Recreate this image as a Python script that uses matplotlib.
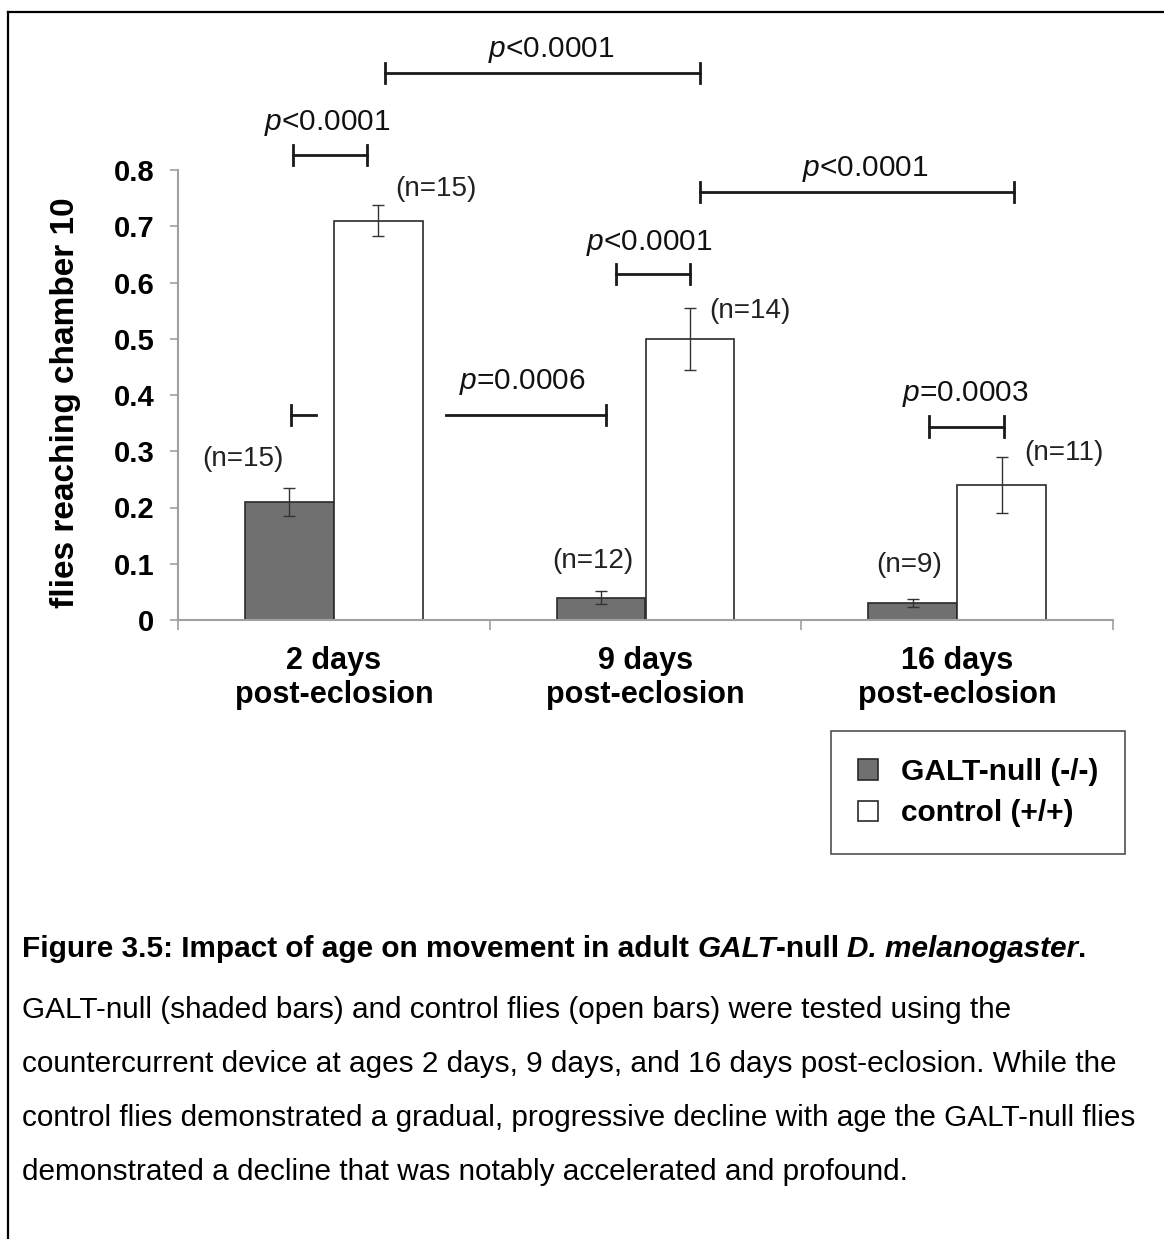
import matplotlib.pyplot as plt
from matplotlib.lines import Line2D
import numpy as np

plt.rcParams['font.family'] = ['Liberation Sans', 'DejaVu Sans']
plt.rcParams['mathtext.fontset'] = 'custom'
plt.rcParams['mathtext.rm'] = 'Liberation Sans'
plt.rcParams['mathtext.it'] = 'Liberation Sans:italic'
plt.rcParams['mathtext.bf'] = 'Liberation Sans:bold'

# data
categories = ['2 days\npost-eclosion', '9 days\npost-eclosion', '16 days\npost-eclosion']
series_names = ['GALT-null (-/-)', 'control (+/+)']
galt_mean = [0.21, 0.04, 0.03]
galt_err = [0.025, 0.012, 0.0065]
galt_n = [15, 12, 9]
ctrl_mean = [0.71, 0.50, 0.24]
ctrl_err = [0.027, 0.055, 0.05]
ctrl_n = [15, 14, 11]
yticks = [0, 0.1, 0.2, 0.3, 0.4, 0.5, 0.6, 0.7, 0.8]
ytick_labels = ['0', '0.1', '0.2', '0.3', '0.4', '0.5', '0.6', '0.7', '0.8']

# significance brackets: (x0, x1, y, caps, label, label_x, label_y)
brackets = [
    (0.164, 1.175, 0.972, 'both', 'p<0.0001', 0.697, 1.013),
    (-0.132, 0.108, 0.827, 'both', 'p<0.0001', -0.022, 0.884),
    (1.174, 2.183, 0.761, 'both', 'p<0.0001', 1.704, 0.802),
    (0.904, 1.143, 0.615, 'both', 'p<0.0001', 1.011, 0.670),
    (0.360, 0.873, 0.364, 'right', 'p=0.0006', 0.604, 0.423),
    (-0.1375, -0.057, 0.364, 'left', None, 0, 0),
    (1.909, 2.150, 0.344, 'both', 'p=0.0003', 2.025, 0.402),
]

caption_lines = [
    'GALT-null (shaded bars) and control flies (open bars) were tested using the',
    'countercurrent device at ages 2 days, 9 days, and 16 days post-eclosion. While the',
    'control flies demonstrated a gradual, progressive decline with age the GALT-null flies',
    'demonstrated a decline that was notably accelerated and profound.',
]

W, H = 1164, 1239
fig = plt.figure(figsize=(W / 100, H / 100), dpi=100)


def fx(px):
    return px / W


def fy(py):
    return 1 - py / H


ax = fig.add_axes([fx(178), fy(620), fx(1113) - fx(178), fy(170) - fy(620)])

x = np.arange(len(categories))
width = 0.285
gray = '#707070'
b1 = ax.bar(x - width / 2, galt_mean, width, color=gray, edgecolor='#2a2a2a',
            linewidth=1.2, label=series_names[0], zorder=2)
b2 = ax.bar(x + width / 2, ctrl_mean, width, color='white', edgecolor='#2a2a2a',
            linewidth=1.2, label=series_names[1], zorder=2)
ax.errorbar(x - width / 2, galt_mean, yerr=galt_err, fmt='none', ecolor='#333333',
            elinewidth=1, capsize=4, capthick=1, zorder=3)
ax.errorbar(x + width / 2, ctrl_mean, yerr=ctrl_err, fmt='none', ecolor='#333333',
            elinewidth=1, capsize=4, capthick=1, zorder=3)

# n labels, offset from the top of each error bar
galt_off = [(-0.148, 0.051), (-0.026, 0.053), (-0.013, 0.061)]
ctrl_off = [(0.186, 0.029), (0.193, -0.006), (0.199, 0.007)]
for i in range(len(categories)):
    ax.text(x[i] - width / 2 + galt_off[i][0], galt_mean[i] + galt_err[i] + galt_off[i][1],
            f'(n={galt_n[i]})', ha='center', va='center', fontsize=20, color='#222222')
    ax.text(x[i] + width / 2 + ctrl_off[i][0], ctrl_mean[i] + ctrl_err[i] + ctrl_off[i][1],
            f'(n={ctrl_n[i]})', ha='center', va='center', fontsize=20, color='#222222')

cap = 0.018
for x0, x1, yb, caps, label, lx, ly in brackets:
    ax.plot([x0, x1], [yb, yb], color='#1a1a1a', lw=2, clip_on=False, zorder=4)
    if caps in ('both', 'left'):
        ax.plot([x0, x0], [yb - cap, yb + cap], color='#1a1a1a', lw=2, clip_on=False, zorder=4)
    if caps in ('both', 'right'):
        ax.plot([x1, x1], [yb - cap, yb + cap], color='#1a1a1a', lw=2, clip_on=False, zorder=4)
    if label:
        ax.text(lx, ly, '$p$' + label[1:], ha='center', va='center', fontsize=21.5,
                color='#111111', clip_on=False)

ax.set_xlim(-0.5, 2.5)
ax.set_ylim(0, 0.8)
ax.set_yticks(yticks)
ax.set_yticklabels(ytick_labels, fontsize=21, fontweight='bold')
ax.set_xticks(x)
ax.set_xticklabels(categories, fontsize=22, fontweight='bold', linespacing=1.15)
ax.set_xticks([-0.5, 0.5, 1.5, 2.5], minor=True)
ax.tick_params(axis='x', which='major', length=0, pad=19)
ax.tick_params(axis='x', which='minor', length=7, width=1.2, color='#a0a0a0', direction='out')
ax.tick_params(axis='y', length=6, width=1.2, color='#a0a0a0', pad=11)
for s in ['top', 'right']:
    ax.spines[s].set_visible(False)
for s in ['left', 'bottom']:
    ax.spines[s].set_color('#a0a0a0')
    ax.spines[s].set_linewidth(1.5)

fig.text(fx(66), fy(403), 'flies reaching chamber 10', rotation=90, ha='center', va='center',
         fontsize=24, fontweight='bold')

leg = ax.legend(handles=[b1, b2], loc='upper left', bbox_to_anchor=(fx(831), fy(731)),
                bbox_transform=fig.transFigure, frameon=True, fancybox=False,
                prop={'size': 21.5, 'weight': 'bold'}, handlelength=0.67, handleheight=0.67,
                handletextpad=0.77, labelspacing=0.45, borderpad=0.9, borderaxespad=0)
leg.get_frame().set_edgecolor('#222222')
leg.get_frame().set_linewidth(1.2)

# page border
fig.add_artist(Line2D([fx(8), 1], [fy(12), fy(12)], color='black', lw=1.6))
fig.add_artist(Line2D([fx(8), fx(8)], [fy(12), 0], color='black', lw=1.6))

# caption title with bold and bold-italic pieces, chained left to right
pieces = [
    ('Figure 3.5: Impact of age on movement in adult ', 'normal'),
    ('GALT', 'italic'),
    ('-null ', 'normal'),
    ('D. melanogaster', 'italic'),
    ('.', 'normal'),
]
prev = fig.text(fx(22), fy(963), pieces[0][0], fontsize=21.4, fontweight='bold',
                ha='left', va='bottom')
for txt, style in pieces[1:]:
    prev = ax.annotate(txt, xy=(1, 0), xycoords=prev, ha='left', va='bottom',
                       fontsize=21.4, fontweight='bold', fontstyle=style,
                       annotation_clip=False)

cap_y = [1010, 1064, 1118, 1172]
for i, line in enumerate(caption_lines):
    fig.text(fx(22), fy(cap_y[i]), line, fontsize=21.4, ha='left', va='center')

fig.savefig('out.png', dpi=100)
